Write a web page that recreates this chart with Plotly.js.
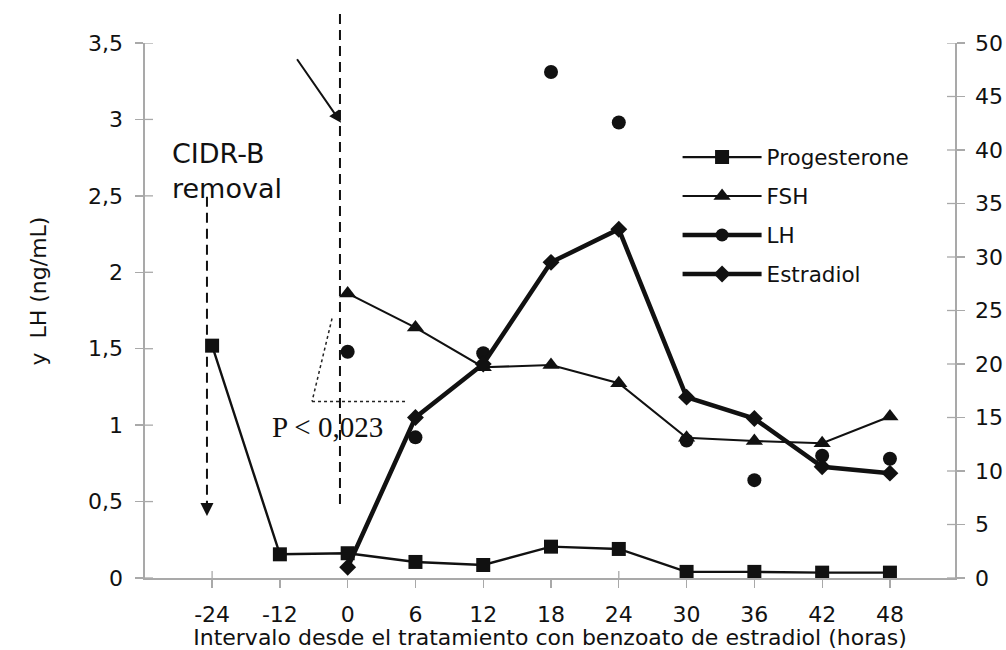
<!DOCTYPE html>
<html>
<head>
<meta charset="utf-8">
<script src="https://cdn.plot.ly/plotly-3.0.1.min.js"></script>
<style>
  html, body { margin: 0; padding: 0; background: #ffffff; }
  #chart { width: 1006px; height: 650px; }
</style>
</head>
<body>
<div id="chart"></div>
<script>
// Sampling times (hours from estradiol benzoate treatment)
const hours = ['-24', '-12', '0', '6', '12', '18', '24', '30', '36', '42', '48'];

// Left axis (ng/mL)
const progesterone = [1.52, 0.155, 0.162, 0.105, 0.085, 0.205, 0.19, 0.04, 0.04, 0.035, 0.035];
const lh = [null, null, 1.48, 0.92, 1.47, 3.31, 2.98, 0.90, 0.64, 0.80, 0.78];

// Right axis
const fsh = [null, null, 26.6, 23.4, 19.7, 19.9, 18.2, 13.1, 12.8, 12.6, 15.1];
const estradiol = [null, null, 1.0, 15.0, 20.0, 29.5, 32.6, 16.9, 14.9, 10.4, 9.8];

// Tick values
const leftTicks = [0, 0.5, 1, 1.5, 2, 2.5, 3, 3.5];
const rightTicks = [0, 5, 10, 15, 20, 25, 30, 35, 40, 45, 50];

const FONT = 'DejaVu Sans, Arial, sans-serif';
const INK = '#111111';
const AXC = '#a9a9a9';
const xRange = [-0.99, 10.96];
const PLOT_W = 810, PLOT_H = 535;

const traces = [
  {
    name: 'Progesterone', x: hours, y: progesterone, yaxis: 'y', xaxis: 'x',
    mode: 'lines+markers', legendgroup: 'a',
    line: {color: INK, width: 2.4},
    marker: {symbol: 'square', size: 14, color: INK}
  },
  {
    name: 'FSH', x: hours, y: fsh, yaxis: 'y2', xaxis: 'x',
    mode: 'lines+markers', legendgroup: 'b',
    line: {color: INK, width: 2.1},
    marker: {symbol: 'triangle-up', size: 15, color: INK}
  },
  {
    // legend entry only for LH (the points are drawn unconnected below)
    name: 'LH', x: hours, y: hours.map(() => null), yaxis: 'y', xaxis: 'x',
    mode: 'lines+markers', legendgroup: 'c',
    line: {color: INK, width: 4.5},
    marker: {symbol: 'circle', size: 13, color: INK}
  },
  {
    name: 'Estradiol', x: hours, y: estradiol, yaxis: 'y2', xaxis: 'x',
    mode: 'lines+markers', legendgroup: 'd',
    line: {color: INK, width: 4.5},
    marker: {symbol: 'diamond', size: 13, color: INK}
  },
  {
    name: 'LH', x: hours, y: lh, yaxis: 'y', xaxis: 'x',
    mode: 'markers', legendgroup: 'c', showlegend: false,
    marker: {symbol: 'circle', size: 14, color: INK}
  }
];

// inner halves of the crossing tick marks (the outer halves are the axis ticks)
const innerTicks = [];
leftTicks.forEach(v => innerTicks.push({type: 'line', xref: 'paper', yref: 'y',
  x0: 0, x1: 8 / PLOT_W, y0: v, y1: v, layer: 'below', line: {color: AXC, width: 1.3}}));
rightTicks.forEach(v => innerTicks.push({type: 'line', xref: 'paper', yref: 'y2',
  x0: 1 - 8 / PLOT_W, x1: 1, y0: v, y1: v, layer: 'below', line: {color: AXC, width: 1.3}}));
hours.forEach(h => innerTicks.push({type: 'line', xref: 'x', yref: 'paper',
  x0: h, x1: h, y0: 0, y1: 7 / PLOT_H, layer: 'below', line: {color: AXC, width: 1.3}}));

const layout = {
  width: 1006, height: 650,
  margin: {l: 145, r: 51, t: 43, b: 72},
  paper_bgcolor: '#ffffff', plot_bgcolor: '#ffffff',
  separators: ',.',
  font: {family: FONT, size: 22, color: INK},
  showlegend: true,
  legend: {
    x: 0.6575, y: 0.825, xanchor: 'left', yanchor: 'top',
    bgcolor: 'rgba(0,0,0,0)', borderwidth: 0,
    font: {family: FONT, size: 21.5, color: INK},
    tracegroupgap: 8, itemwidth: 79
  },
  xaxis: {
    type: 'category', categoryorder: 'array', categoryarray: hours,
    range: xRange, showgrid: false, zeroline: false,
    showline: true, linecolor: AXC, linewidth: 1.6,
    ticks: 'outside', ticklen: 8, tickwidth: 1.3, tickcolor: AXC,
    ticklabelstandoff: 8,
    tickfont: {family: FONT, size: 22, color: INK},
    title: {text: 'Intervalo desde el tratamiento con benzoato de estradiol (horas)',
            font: {family: FONT, size: 22, color: INK}, standoff: 0},
    automargin: false, fixedrange: true
  },
  yaxis: {
    range: [0, 3.5], tickmode: 'array', tickvals: leftTicks,
    showgrid: false, zeroline: false,
    showline: true, linecolor: AXC, linewidth: 1.6,
    ticks: 'outside', ticklen: 8, tickwidth: 1.3, tickcolor: AXC,
    ticklabelstandoff: 8,
    tickfont: {family: FONT, size: 22, color: INK},
    automargin: false, fixedrange: true
  },
  yaxis2: {
    overlaying: 'y', side: 'right', anchor: 'x',
    range: [0, 50], tickmode: 'array', tickvals: rightTicks,
    showgrid: false, zeroline: false,
    showline: true, linecolor: AXC, linewidth: 1.6,
    ticks: 'outside', ticklen: 8, tickwidth: 1.3, tickcolor: AXC,
    ticklabelstandoff: 6,
    tickfont: {family: FONT, size: 22, color: INK},
    automargin: false, fixedrange: true
  },
  shapes: innerTicks.concat([
    // dashed line marking treatment time
    {type: 'line', xref: 'paper', yref: 'paper', x0: 0.2407, x1: 0.2407, y0: 1.054, y1: 0.136,
     line: {color: INK, width: 2, dash: '10px,6px'}},
    // dashed line for CIDR-B removal
    {type: 'line', xref: 'paper', yref: 'paper', x0: 0.0765, x1: 0.0765, y0: 0.7127, y1: 0.14,
     line: {color: INK, width: 2, dash: '10px,6px'}},
    // dotted bracket
    {type: 'line', xref: 'paper', yref: 'paper', x0: 0.2309, y0: 0.485, x1: 0.2062, y1: 0.330,
     line: {color: '#222222', width: 1.5, dash: 'dot'}},
    {type: 'line', xref: 'paper', yref: 'paper', x0: 0.2062, y0: 0.330, x1: 0.3247, y1: 0.330,
     line: {color: '#222222', width: 1.5, dash: 'dot'}}
  ]),
  annotations: [
    {xref: 'paper', yref: 'paper', x: -0.149, y: 0.537, text: 'y  LH (ng/mL)', textangle: -90,
     showarrow: false, font: {family: FONT, size: 22, color: INK}},
    {xref: 'paper', yref: 'paper', x: 0.031, y: 0.761, xanchor: 'left', yanchor: 'middle', align: 'left',
     text: 'CIDR-B<br>removal', showarrow: false, font: {family: FONT, size: 27, color: INK}},
    {xref: 'paper', yref: 'paper', x: 0.154, y: 0.282, xanchor: 'left', yanchor: 'middle',
     text: 'P &lt; 0,023', showarrow: false,
     font: {family: 'Liberation Serif, Times New Roman, serif', size: 29, color: INK}},
    // arrow to treatment line
    {xref: 'paper', yref: 'paper', x: 0.242, y: 0.851, text: '', showarrow: true,
     ax: -45, ay: -65, arrowhead: 2, arrowsize: 1.2, arrowwidth: 2, arrowcolor: INK, standoff: 0},
    // arrow head on CIDR-B line
    {xref: 'paper', yref: 'paper', x: 0.0765, y: 0.1157, text: '', showarrow: true,
     ax: 0, ay: -16, arrowhead: 2, arrowsize: 1.3, arrowwidth: 2, arrowcolor: INK, standoff: 0}
  ]
};

Plotly.newPlot('chart', traces, layout, {displayModeBar: false, staticPlot: true});
</script>
</body>
</html>
